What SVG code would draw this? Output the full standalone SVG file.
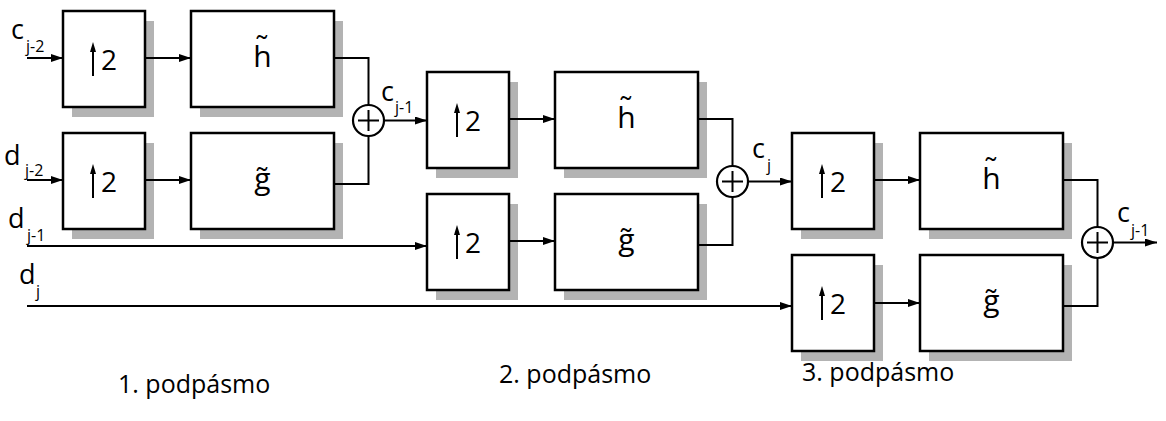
<svg xmlns="http://www.w3.org/2000/svg" width="1166" height="421" viewBox="0 0 1166 421">
<style>
  .box{fill:#fff;stroke:#000;stroke-width:2.5}
  .sh{fill:#b3b3b3;stroke:none}
  .ln{fill:none;stroke:#000;stroke-width:2}
  .arr{fill:none;stroke:#000;stroke-width:2;marker-end:url(#ah)}
  .sum{fill:#fff;stroke:#000;stroke-width:2.2}
  text{font-family:"Open Sans","Liberation Sans",sans-serif;fill:#000}
  .two{font-size:28px}
  .flt{font-size:30px;text-anchor:middle}
  .lb{font-size:27px}
  .sub{font-size:16px}
  .cap{font-size:25px}
</style>
<defs>
  <marker id="ah" viewBox="0 0 12 8" refX="12" refY="4" markerWidth="12" markerHeight="8" markerUnits="userSpaceOnUse" orient="auto">
    <path d="M0,0 L12,4 L0,8 Z" fill="#000"/>
  </marker>
  <g id="upsym">
    <line x1="30" y1="41" x2="30" y2="65" stroke="#000" stroke-width="2"/>
    <path d="M27,41 L30,31 L33,41 Z" fill="#000"/>
  </g>
</defs>

<!-- Stage 1 -->
<g id="up1a" transform="translate(63,11)">
  <rect class="sh" x="9" y="10" width="82" height="96"/>
  <rect class="box" x="0" y="0" width="82" height="96"/>
  <use href="#upsym"/>
  <text class="two" x="38" y="59">2</text>
</g>
<g id="h1" transform="translate(191,11)">
  <rect class="sh" x="9" y="10" width="143" height="96"/>
  <rect class="box" x="0" y="0" width="143" height="96"/>
  <text class="flt"><tspan x="71.5" y="56">h</tspan><tspan x="71" y="46">˜</tspan></text>
</g>
<g id="up1b" transform="translate(63,133)">
  <rect class="sh" x="9" y="10" width="82" height="96"/>
  <rect class="box" x="0" y="0" width="82" height="96"/>
  <use href="#upsym"/>
  <text class="two" x="38" y="59">2</text>
</g>
<g id="g1" transform="translate(191,133)">
  <rect class="sh" x="9" y="10" width="143" height="96"/>
  <rect class="box" x="0" y="0" width="143" height="96"/>
  <text class="flt" x="71.5" y="56">g̃</text>
</g>

<!-- Stage 2 -->
<g id="up2a" transform="translate(427,72)">
  <rect class="sh" x="9" y="10" width="82" height="96"/>
  <rect class="box" x="0" y="0" width="82" height="96"/>
  <use href="#upsym"/>
  <text class="two" x="38" y="59">2</text>
</g>
<g id="h2" transform="translate(555,72)">
  <rect class="sh" x="9" y="10" width="143" height="96"/>
  <rect class="box" x="0" y="0" width="143" height="96"/>
  <text class="flt"><tspan x="71.5" y="56">h</tspan><tspan x="71" y="46">˜</tspan></text>
</g>
<g id="up2b" transform="translate(427,194)">
  <rect class="sh" x="9" y="10" width="82" height="96"/>
  <rect class="box" x="0" y="0" width="82" height="96"/>
  <use href="#upsym"/>
  <text class="two" x="38" y="59">2</text>
</g>
<g id="g2" transform="translate(555,194)">
  <rect class="sh" x="9" y="10" width="143" height="96"/>
  <rect class="box" x="0" y="0" width="143" height="96"/>
  <text class="flt" x="71.5" y="56">g̃</text>
</g>

<!-- Stage 3 -->
<g id="up3a" transform="translate(792,133)">
  <rect class="sh" x="9" y="10" width="82" height="96"/>
  <rect class="box" x="0" y="0" width="82" height="96"/>
  <use href="#upsym"/>
  <text class="two" x="38" y="59">2</text>
</g>
<g id="h3" transform="translate(920,133)">
  <rect class="sh" x="9" y="10" width="143" height="96"/>
  <rect class="box" x="0" y="0" width="143" height="96"/>
  <text class="flt"><tspan x="71.5" y="56">h</tspan><tspan x="71" y="46">˜</tspan></text>
</g>
<g id="up3b" transform="translate(792,255)">
  <rect class="sh" x="9" y="10" width="82" height="96"/>
  <rect class="box" x="0" y="0" width="82" height="96"/>
  <use href="#upsym"/>
  <text class="two" x="38" y="59">2</text>
</g>
<g id="g3" transform="translate(920,255)">
  <rect class="sh" x="9" y="10" width="143" height="96"/>
  <rect class="box" x="0" y="0" width="143" height="96"/>
  <text class="flt" x="71.5" y="56">g̃</text>
</g>

<!-- Connectors -->
<g id="connectors">
  <line class="arr" x1="27" y1="58" x2="63" y2="58"/>
  <line class="arr" x1="145" y1="58" x2="191" y2="58"/>
  <line class="arr" x1="27" y1="180" x2="63" y2="180"/>
  <line class="arr" x1="145" y1="180" x2="191" y2="180"/>
  <polyline class="ln" points="334,58 368.5,58 368.5,105"/>
  <polyline class="ln" points="334,184 368.5,184 368.5,136"/>
  <line class="arr" x1="384" y1="120.5" x2="427" y2="120.5"/>

  <line class="arr" x1="509" y1="119" x2="555" y2="119"/>
  <line class="arr" x1="27" y1="246" x2="427" y2="246"/>
  <line class="arr" x1="509" y1="241" x2="555" y2="241"/>
  <polyline class="ln" points="698,119 732.5,119 732.5,166"/>
  <polyline class="ln" points="698,245 732.5,245 732.5,197"/>
  <line class="arr" x1="748" y1="181.5" x2="792" y2="181.5"/>

  <line class="arr" x1="874" y1="180" x2="920" y2="180"/>
  <line class="arr" x1="27" y1="306" x2="792" y2="306"/>
  <line class="arr" x1="874" y1="303" x2="920" y2="303"/>
  <polyline class="ln" points="1063,180 1097.5,180 1097.5,227"/>
  <polyline class="ln" points="1063,306 1097.5,306 1097.5,258"/>
  <line class="arr" x1="1113" y1="242.5" x2="1157" y2="242.5"/>
</g>

<!-- Summation nodes -->
<g id="sum1">
  <circle class="sum" cx="368.5" cy="120.5" r="15.5"/>
  <path class="ln" d="M368.5,110 V131 M358,120.5 H379"/>
</g>
<g id="sum2">
  <circle class="sum" cx="732.5" cy="181.5" r="15.5"/>
  <path class="ln" d="M732.5,171 V192 M722,181.5 H743"/>
</g>
<g id="sum3">
  <circle class="sum" cx="1097.5" cy="242.5" r="15.5"/>
  <path class="ln" d="M1097.5,232 V253 M1087,242.5 H1108"/>
</g>

<!-- Signal labels -->
<g id="labels">
  <text class="lb" x="11" y="39">c</text><text class="sub" x="26" y="52">j-2</text>
  <text class="lb" x="4" y="165">d</text><text class="sub" x="25" y="176">j-2</text>
  <text class="lb" x="8" y="228">d</text><text class="sub" x="27" y="241">j-1</text>
  <text class="lb" x="19" y="284">d</text><text class="sub" x="36" y="297">j</text>
  <text class="lb" x="381" y="101">c</text><text class="sub" x="395" y="113">j-1</text>
  <text class="lb" x="752" y="158">c</text><text class="sub" x="767" y="171">j</text>
  <text class="lb" x="1117" y="222">c</text><text class="sub" x="1131" y="236">j-1</text>
</g>

<g id="captions">
  <text class="cap" x="118" y="393">1. podpásmo</text>
  <text class="cap" x="499" y="383">2. podpásmo</text>
  <text class="cap" x="802" y="381">3. podpásmo</text>
</g>
</svg>
